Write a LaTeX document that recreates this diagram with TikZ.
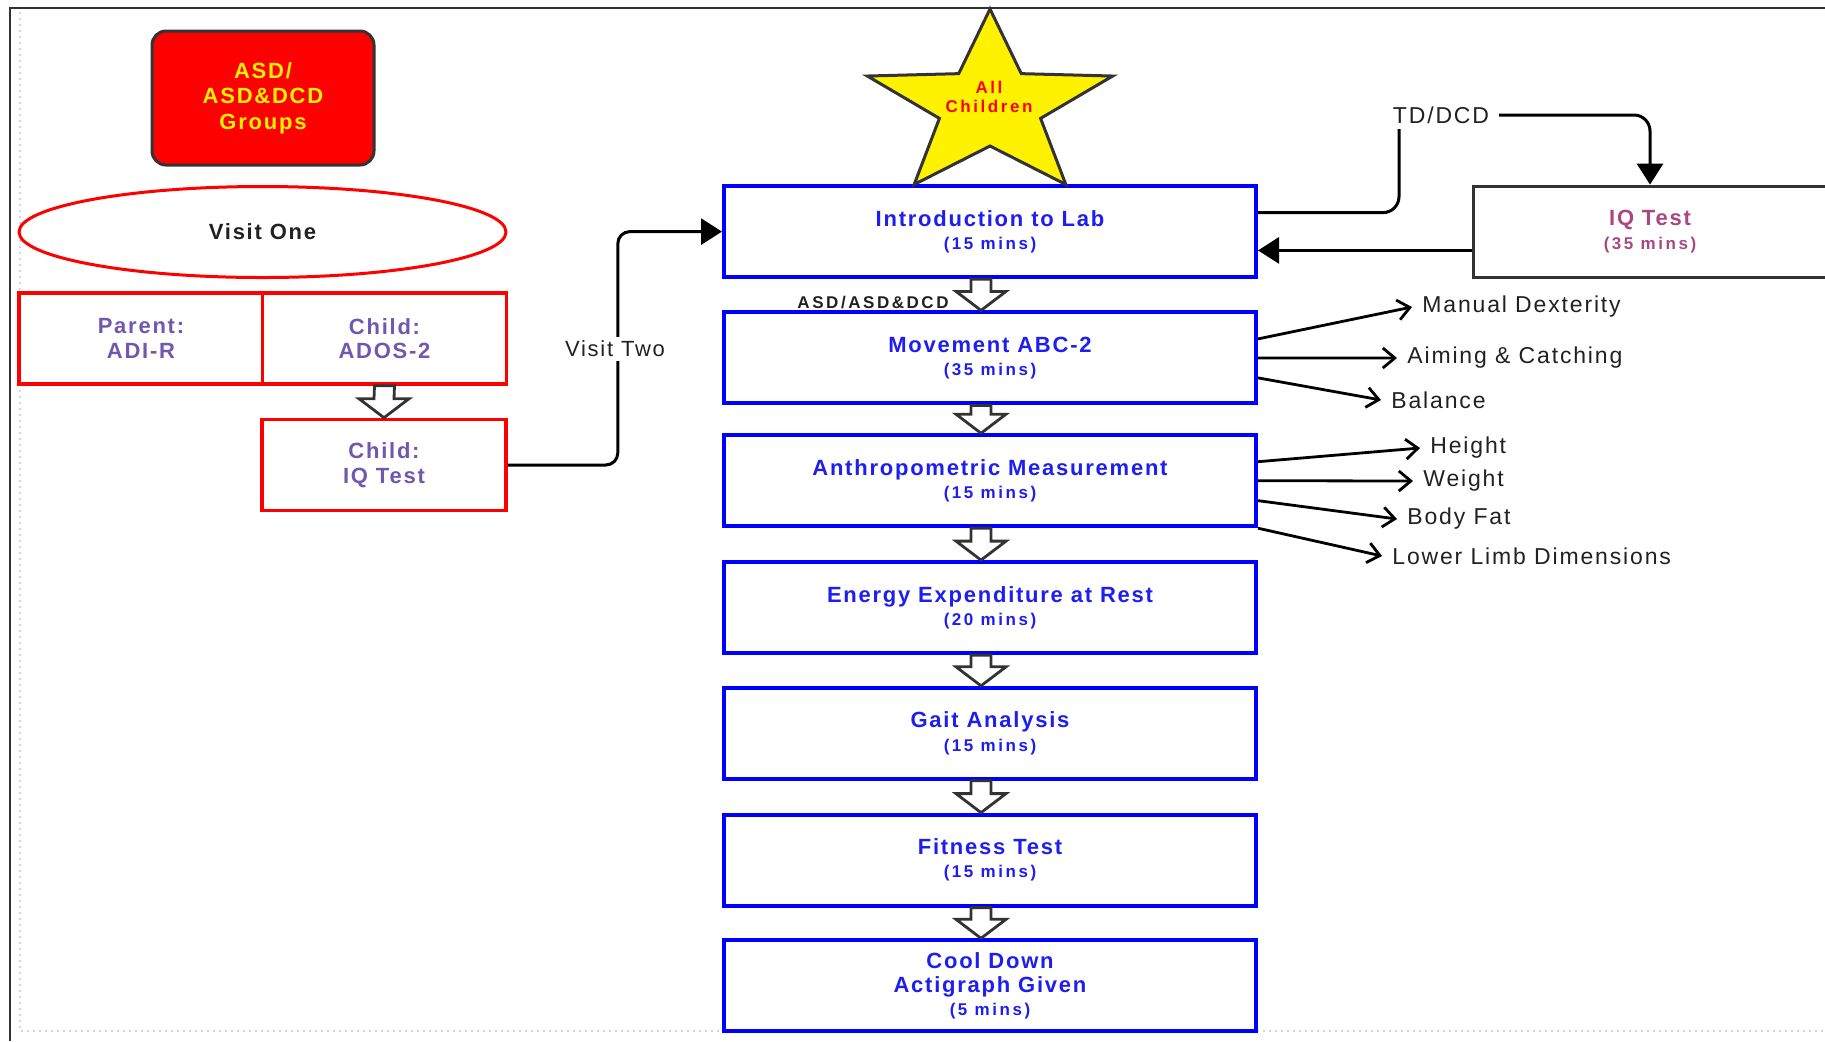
\documentclass[tikz,border=0pt]{standalone}
\usepackage{fontspec}
\setmainfont{Liberation Sans}[LetterSpace=8]
\newfontfamily\widesp{Liberation Sans}[LetterSpace=15]
\usetikzlibrary{shapes.geometric,arrows.meta,calc}

\definecolor{stageblue}{RGB}{0,0,255}
\definecolor{stagetext}{RGB}{30,30,240}
\definecolor{visitpurple}{RGB}{112,88,176}
\definecolor{iqpink}{RGB}{168,72,128}
\definecolor{edgegray}{RGB}{51,51,51}
\definecolor{dotblue}{RGB}{200,215,235}

\newcommand{\mins}[1]{{\widesp\fontsize{8.5}{10}\selectfont(#1)}}
% hollow block arrow from the bottom of #2 to the top of #3, shifted by #1
\newcommand{\hollowarrow}[3][0]{%
  \draw[hollow] ($(#2.south)+(#1-10,0)$) -- ($(#3.north)+(#1-10,-19)$)
    -- ($(#3.north)+(#1-25,-19)$) -- ($(#3.north)+(#1,0)$)
    -- ($(#3.north)+(#1+25,-19)$) -- ($(#3.north)+(#1+10,-19)$)
    -- ($(#2.south)+(#1+10,0)$) -- cycle;}

\begin{document}
\begin{tikzpicture}[x=0.5pt, y=-0.5pt, >={Triangle[length=10.5pt,width=13pt]},
    every node/.style={font=\fontsize{11}{12.5}\selectfont, text=black!87},
    stage/.style={draw=stageblue, line width=2pt, fill=white, text=stagetext, align=center,
      minimum width=266pt, minimum height=45.5pt, font=\bfseries\fontsize{11}{11.6}\selectfont},
    visitbox/.style={draw=red, line width=1.8pt, fill=white, text=visitpurple, align=center,
      minimum width=122pt, minimum height=45.5pt, font=\bfseries\fontsize{11}{12.2}\selectfont},
    hollow/.style={draw=edgegray, fill=white, line width=1.4pt},
    flow/.style={draw, line width=1.5pt},
    branch/.style={line width=1.4pt, -{Straight Barb[length=6pt,width=10pt]}},
    outcome/.style={anchor=west, inner xsep=5pt, inner ysep=1pt, font=\fontsize{11.5}{12.5}\selectfont}]
    \useasboundingbox (0,0) rectangle (1825,1041);

    % frame of the page
    \draw[edgegray, line width=1pt] (1825,8) -- (10,8) -- (10,1041);
    \draw[dotblue, dotted, line width=1pt] (20,12) -- (20,1031) -- (1825,1031);

    % visit one
    \node[draw=edgegray, fill=red, line width=1.5pt, rounded corners=7pt, minimum width=111pt,
      minimum height=67pt, align=center, text=yellow, font=\bfseries\fontsize{11}{12.8}\selectfont]
      (groups) at (263,98) {ASD/\\ASD\&DCD\\Groups};
    \node[draw=red, ellipse, line width=1.5pt, minimum width=243.5pt, minimum height=45.5pt,
      font=\bfseries\fontsize{11}{12}\selectfont] (visit1) at (262.5,232) {Visit One};
    \node[visitbox] (parent) at (141,338.5) {Parent:\\ADI-R};
    \node[visitbox] (ados) at (384.5,338.5) {Child:\\ADOS-2};
    \node[visitbox] (childiq) at (384,465) {Child:\\IQ Test};
    \hollowarrow{ados}{childiq}

    % visit two
    \node[stage] (intro) at (990,231.6) {Introduction to Lab\\\mins{15 mins}};
    \node[stage] (move) at (990,357.9) {Movement ABC-2\\\mins{35 mins}};
    \node[stage] (anthro) at (990,480.7) {Anthropometric Measurement\\\mins{15 mins}};
    \node[stage] (energy) at (990,607.6) {Energy Expenditure at Rest\\\mins{20 mins}};
    \node[stage] (gait) at (990,733.3) {Gait Analysis\\\mins{15 mins}};
    \node[stage] (fitness) at (990,860.1) {Fitness Test\\\mins{15 mins}};
    \node[stage] (cool) at (990,985.8) {Cool Down\\Actigraph Given\\\mins{5 mins}};
    \foreach \a/\b in {intro/move, move/anthro, anthro/energy, energy/gait, gait/fitness, fitness/cool}
        \hollowarrow[-9]{\a}{\b};
    \node[anchor=east, inner sep=1pt, font=\widesp\bfseries\fontsize{8.5}{10}\selectfont]
      (asdlabel) at (951,302) {ASD/ASD\&DCD};

    % all children star
    \begin{scope}[shift={(990,106)}, xscale=1.33, yscale=-1]
        \draw[draw=edgegray, fill=yellow, line width=1.5pt, line join=miter]
          (90:97) -- (126:40) -- (162:97) -- (198:40) -- (234:97) -- (270:40)
          -- (306:97) -- (342:40) -- (18:97) -- (54:40) -- cycle;
    \end{scope}
    \node[align=center, text=red, font=\widesp\bfseries\fontsize{8.5}{9.3}\selectfont]
      (allkids) at (989,97) {All\\Children};

    \draw[flow, ->, rounded corners=6pt] (childiq.east) -- ++(110,0) |- (intro.west);
    \node[fill=white, inner sep=2pt] (visit2) at (615,349) {Visit Two};

    % TD/DCD group
    \node[draw=edgegray, line width=1.5pt, minimum width=177pt, minimum height=45.5pt, align=center,
      text=iqpink, font=\bfseries\fontsize{11}{11.6}\selectfont]
      (iqtd) at (1650,231.6) {IQ Test\\\mins{35 mins}};
    \coordinate (introout) at ($(intro.north east)!0.3!(intro.south east)$);
    \coordinate (iqback) at ($(iqtd.north west)!0.7!(iqtd.south west)$);
    \draw[flow, ->, rounded corners=8pt] (introout) -| (1399,115) -| (iqtd.north);
    \node[fill=white, inner xsep=5pt, inner ysep=3pt, font=\fontsize{11.5}{12}\selectfont]
      (tddcd) at (1441,115) {TD/DCD};
    \draw[flow, ->] (iqback) -- (iqback -| intro.east);

    % outcomes
    \node[outcome] (dext) at (1412,307) {Manual Dexterity};
    \node[outcome] (aim) at (1397,358) {Aiming \& Catching};
    \node[outcome] (bal) at (1381,400) {Balance};
    \node[outcome] (height) at (1420,448) {Height};
    \node[outcome] (weight) at (1413,481) {Weight};
    \node[outcome] (fat) at (1397,519) {Body Fat};
    \node[outcome] (limb) at (1382,556) {Lower Limb Dimensions};
    \draw[branch] ($(move.north east)!0.3!(move.south east)$) -- (dext.west);
    \draw[branch] (move.east) -- (aim.west);
    \draw[branch] ($(move.north east)!0.71!(move.south east)$) -- (bal.west);
    \draw[branch] ($(anthro.north east)!0.3!(anthro.south east)$) -- (height.west);
    \draw[branch] (anthro.east) -- (weight.west);
    \draw[branch] ($(anthro.north east)!0.71!(anthro.south east)$) -- (fat.west);
    \draw[branch] (anthro.south east) -- (limb.west);
\end{tikzpicture}
\end{document}
